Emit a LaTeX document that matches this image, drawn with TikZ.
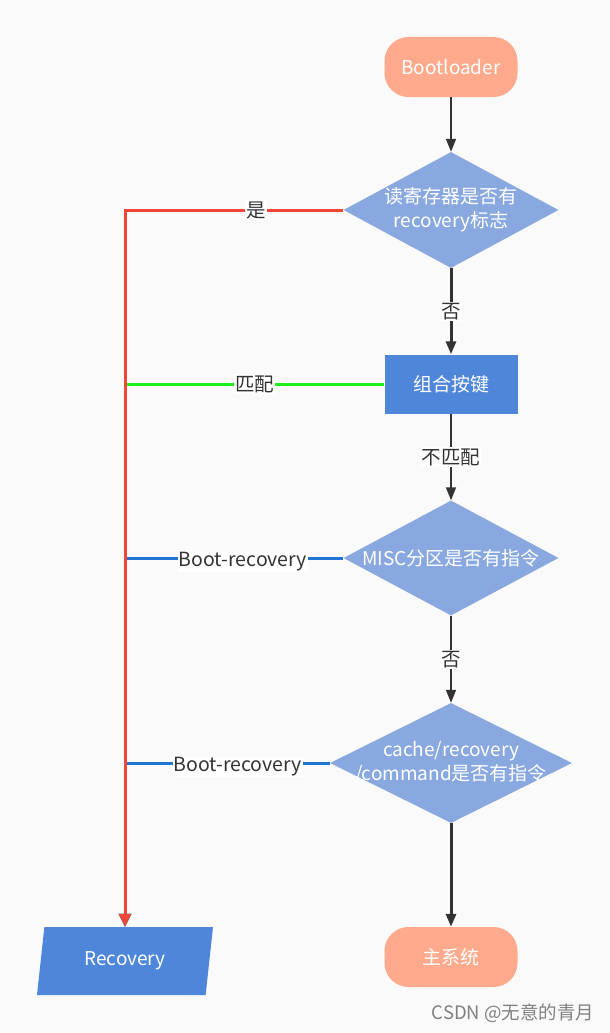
\documentclass[tikz,border=0pt]{standalone}
\usepackage{fontspec}
\setmainfont{Noto Sans CJK SC}
\usetikzlibrary{arrows.meta,shapes.geometric}

\definecolor{termfill}{HTML}{FFAA8C}
\definecolor{askfill}{HTML}{8AA8E0}
\definecolor{boxfill}{HTML}{4E86D9}
\definecolor{yesred}{HTML}{F24638}
\definecolor{matchgreen}{HTML}{18F018}
\definecolor{bootblue}{HTML}{1F74D4}
\definecolor{edgegray}{HTML}{333333}
\definecolor{bggray}{HTML}{FAFAFA}

\begin{document}
\begin{tikzpicture}[x=1pt,y=-1pt,
  nodetext/.style={text=white,align=center,font=\fontsize{19}{24}\selectfont},
  terminal/.style={nodetext,fill=termfill,rounded corners=24pt,
    minimum width=133pt,minimum height=60pt},
  process/.style={nodetext,fill=boxfill,minimum width=133pt,minimum height=59pt},
  decision/.style={diamond,fill=askfill,inner sep=0pt},
  iobox/.style={nodetext,trapezium,trapezium left angle=73.6,
    trapezium right angle=106.4,trapezium stretches body,fill=boxfill,
    minimum width=176pt,minimum height=68pt},
  flow/.style={draw=edgegray,line width=1.5pt,-{Triangle[length=13pt,width=10pt]}},
  thickflow/.style={flow,line width=3pt},
  sideflow/.style={line width=3pt,-{Triangle[length=13pt,width=12pt]}},
  edgelabel/.style={fill=white,text=edgegray,inner sep=1pt,
    font=\fontsize{19.5}{22}\selectfont}]

  % canvas
  \fill[bggray] (0,0) rectangle (610,1033);

  % main column
  \node[terminal] (boot) at (451,67) {Bootloader};
  \node[decision,minimum width=215pt,minimum height=116pt] (ask1) at (451,210) {};
  \node[nodetext] (ask1txt) at (ask1) {读寄存器是否有\\recovery标志};
  \node[process] (keys) at (451,384) {组合按键};
  \node[decision,minimum width=215pt,minimum height=115pt] (ask2) at (451,558) {};
  \node[nodetext] (ask2txt) at (ask2) {MISC分区是否有指令};
  \node[decision,minimum width=242pt,minimum height=120pt] (ask3) at (451,763) {};
  \node[nodetext] (ask3txt) at (ask3) {cache/recovery\\/command是否有指令};
  \node[terminal] (mainsys) at (451,957) {主系统};

  % recovery
  \node[iobox] (recovery) at (125,961) {Recovery};

  % watermark
  \node[text=gray,font=\fontsize{18.5}{20}\selectfont] (mark) at (513,1013) {CSDN @无意的青月};

  \draw[flow] (boot) -- (ask1);
  \draw[thickflow] (ask1) -- node[edgelabel]{否} (keys);
  \draw[flow] (keys) -- node[edgelabel]{不匹配} (ask2);
  \draw[flow] (ask2) -- node[edgelabel]{否} (ask3);
  \draw[thickflow] (ask3) -- (mainsys);

  % branches to recovery
  \draw[sideflow,matchgreen] (keys.west) -- node[edgelabel,pos=0.5]{匹配}
    (keys.west -| recovery.north) -- (recovery.north);
  \draw[sideflow,bootblue] (ask2.west) -- node[edgelabel,pos=0.46,yshift=-4pt]{Boot-recovery}
    (ask2.west -| recovery.north) -- (recovery.north);
  \draw[sideflow,bootblue] (ask3.west) -- node[edgelabel,pos=0.45,yshift=-4pt]{Boot-recovery}
    (ask3.west -| recovery.north) -- (recovery.north);
  \draw[sideflow,yesred] (ask1.west) -- node[edgelabel,pos=0.4]{是}
    (ask1.west -| recovery.north) -- (recovery.north);
\end{tikzpicture}
\end{document}
